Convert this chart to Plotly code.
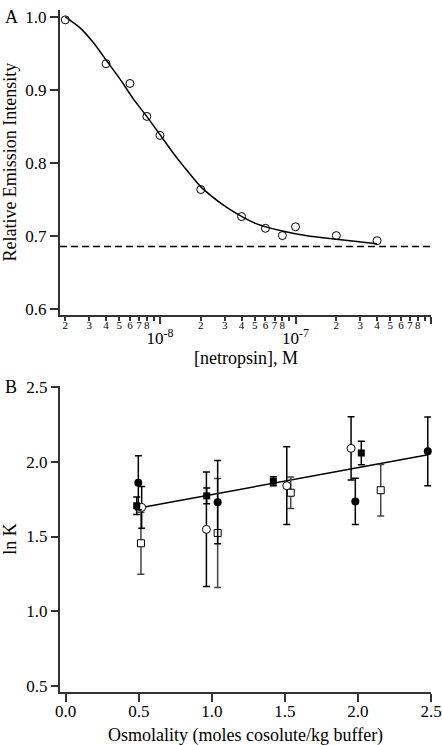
import plotly.graph_objects as go

# ---------- Panel A data ----------
conc_M = [2e-9, 4e-9, 6e-9, 8e-9, 1e-8, 2e-8, 4e-8, 6e-8, 8e-8, 1e-7, 2e-7, 4e-7]
rel_intensity = [0.996, 0.936, 0.909, 0.864, 0.838, 0.764, 0.727, 0.711, 0.701, 0.713, 0.701, 0.694]
fit_conc = [2.0e-9, 2.57e-9, 3.22e-9, 4.04e-9, 5.07e-9, 6.35e-9, 7.98e-9, 1.0e-8, 1.25e-8,
            1.49e-8, 1.97e-8, 2.77e-8, 3.68e-8, 5.17e-8, 7.69e-8, 1.28e-7, 2.0e-7, 4.0e-7]
fit_intensity = [1.0, 0.985, 0.965, 0.940, 0.915, 0.888, 0.864, 0.839, 0.814,
                 0.796, 0.769, 0.746, 0.731, 0.717, 0.708, 0.700, 0.696, 0.690]
baseline_conc = [1.83e-9, 1e-6]
baseline_val = [0.686, 0.686]
minor_digits = [2, 3, 4, 5, 6, 7, 8, 9]
decades = [-8, -7, -6]
decade_labels = ["10<sup>-8</sup>", "10<sup>-7</sup>", "10<sup>-6</sup>"]

# ---------- Panel B data ----------
fc_x = [0.497, 1.040, 1.982, 2.478]
fc_y = [1.86, 1.73, 1.735, 2.07]
fc_err = [0.18, 0.278, 0.155, 0.23]
fs_x = [0.486, 0.965, 1.421, 2.023]
fs_y = [1.706, 1.772, 1.870, 2.059]
fs_err = [0.058, 0.053, 0.03, 0.079]
oc_x = [0.52, 0.963, 1.513, 1.953]
oc_y = [1.695, 1.548, 1.84, 2.09]
oc_err = [0.14, 0.383, 0.26, 0.212]
os_x = [0.515, 1.040, 1.54, 2.156]
os_y = [1.455, 1.524, 1.793, 1.81]
os_err = [0.208, 0.365, 0.105, 0.172]
line_x = [0.52, 2.48]
line_y = [1.695, 2.047]

FONT = "Liberation Serif"
AX = "#333333"

fig = go.Figure()

# Panel A
fig.add_trace(go.Scatter(x=baseline_conc, y=baseline_val, mode="lines",
                         line=dict(color="black", width=1.5, dash="7px,4px"),
                         xaxis="x", yaxis="y", showlegend=False))
fig.add_trace(go.Scatter(x=fit_conc, y=fit_intensity, mode="lines",
                         line=dict(color="black", width=1.5, shape="spline", smoothing=0.6),
                         xaxis="x", yaxis="y", showlegend=False))
fig.add_trace(go.Scatter(x=conc_M, y=rel_intensity, mode="markers",
                         marker=dict(symbol="circle-open", size=8, color="black", line=dict(width=1)),
                         xaxis="x3", yaxis="y", showlegend=False, cliponaxis=False))

# Panel B
def eb(arr, color):
    return dict(type="data", array=arr, visible=True, thickness=1.5, width=3.5, color=color)

fig.add_trace(go.Scatter(x=line_x, y=line_y, mode="lines", line=dict(color="black", width=1.5),
                         xaxis="x2", yaxis="y2", showlegend=False))
fig.add_trace(go.Scatter(x=os_x, y=os_y, mode="markers", error_y=eb(os_err, "#444444"),
                         marker=dict(symbol="square", size=7, color="white", line=dict(color="black", width=1)),
                         xaxis="x2", yaxis="y2", showlegend=False, cliponaxis=False))
fig.add_trace(go.Scatter(x=oc_x, y=oc_y, mode="markers", error_y=eb(oc_err, "black"),
                         marker=dict(symbol="circle", size=8, color="white", line=dict(color="black", width=1)),
                         xaxis="x2", yaxis="y2", showlegend=False, cliponaxis=False))
fig.add_trace(go.Scatter(x=fc_x, y=fc_y, mode="markers", error_y=eb(fc_err, "black"),
                         marker=dict(symbol="circle", size=8, color="black"),
                         xaxis="x2", yaxis="y2", showlegend=False, cliponaxis=False))
fig.add_trace(go.Scatter(x=fs_x, y=fs_y, mode="markers", error_y=eb(fs_err, "black"),
                         marker=dict(symbol="square", size=7, color="black"),
                         xaxis="x2", yaxis="y2", showlegend=False, cliponaxis=False))

minor_vals = [d * 10 ** k for k in [-9, -8, -7] for d in minor_digits]
minor_text = [str(d) if d <= 8 else " " for k in [-9, -8, -7] for d in minor_digits]
minor_keep = [(v, t) for v, t in zip(minor_vals, minor_text) if v >= 1.83e-9]

xr_a = [-8.738, -6.0]
dom_a = [0.5506, 0.9971]
dom_b = [0.0, 0.448]

fig.update_layout(
    width=442, height=745,
    margin=dict(l=60, r=11, t=0, b=53),
    paper_bgcolor="white", plot_bgcolor="white",
    font=dict(family=FONT, size=17, color="black"),
    xaxis=dict(type="log", range=xr_a, domain=[0, 1], anchor="y",
               tickmode="array", tickvals=[10.0 ** d for d in decades], ticktext=decade_labels,
               ticks="outside", ticklen=7, tickwidth=1.5, tickcolor=AX, tickangle=0,
               ticklabelstandoff=-1, tickfont=dict(size=17),
               showline=True, linecolor=AX, linewidth=2, showgrid=False, zeroline=False),
    xaxis3=dict(type="log", range=xr_a, overlaying="x", anchor="y", side="bottom",
                tickmode="array", tickvals=[v for v, t in minor_keep], ticktext=[t for v, t in minor_keep],
                ticks="outside", ticklen=5, tickwidth=1.5, tickcolor=AX, tickangle=0,
                ticklabelstandoff=-6,
                tickfont=dict(size=11), showline=False, showgrid=False, zeroline=False),
    yaxis=dict(range=[0.5919, 1.0095], domain=dom_a, anchor="x",
               tickmode="array", tickvals=[0.6, 0.7, 0.8, 0.9, 1.0], tickformat=".1f",
               ticks="outside", ticklen=8, tickwidth=1.5, tickcolor=AX,
               showline=True, linecolor=AX, linewidth=2, showgrid=False, zeroline=False),
    xaxis2=dict(range=[-0.039, 2.5], domain=[0, 1], anchor="y2",
                tickmode="array", tickvals=[0.0, 0.5, 1.0, 1.5, 2.0, 2.5], tickformat=".1f",
                ticks="outside", ticklen=8, tickwidth=1.5, tickcolor=AX,
                ticklabelstandoff=-5,
                showline=True, linecolor=AX, linewidth=2, showgrid=False, zeroline=False),
    yaxis2=dict(range=[0.46, 2.51], domain=dom_b, anchor="x2",
                tickmode="array", tickvals=[0.5, 1.0, 1.5, 2.0, 2.5], tickformat=".1f",
                ticks="outside", ticklen=7, tickwidth=1.5, tickcolor=AX,
                showline=True, linecolor=AX, linewidth=2, showgrid=False, zeroline=False),
    annotations=[
        dict(text="A", x=-0.1536, y=0.987, xref="paper", yref="paper", xanchor="left", yanchor="middle",
             showarrow=False, font=dict(size=18)),
        dict(text="B", x=-0.1536, y=0.4465, xref="paper", yref="paper", xanchor="left", yanchor="middle",
             showarrow=False, font=dict(size=18)),
        dict(text="Relative Emission Intensity", x=-0.1347, y=0.774, xref="paper", yref="paper",
             xanchor="center", yanchor="middle", textangle=-90, showarrow=False, font=dict(size=18)),
        dict(text="ln K", x=-0.1347, y=0.224, xref="paper", yref="paper",
             xanchor="center", yanchor="middle", textangle=-90, showarrow=False, font=dict(size=18)),
        dict(text="[netropsin], M", x=0.5, y=0.488, xref="paper", yref="paper",
             xanchor="center", yanchor="middle", showarrow=False, font=dict(size=18)),
        dict(text="Osmolality (moles cosolute/kg buffer)", x=0.5, y=-0.0635, xref="paper", yref="paper",
             xanchor="center", yanchor="middle", showarrow=False, font=dict(size=18)),
    ],
)

fig.write_html("out.html", config={"displayModeBar": False},
               post_script="document.body.style.margin='0px';")
